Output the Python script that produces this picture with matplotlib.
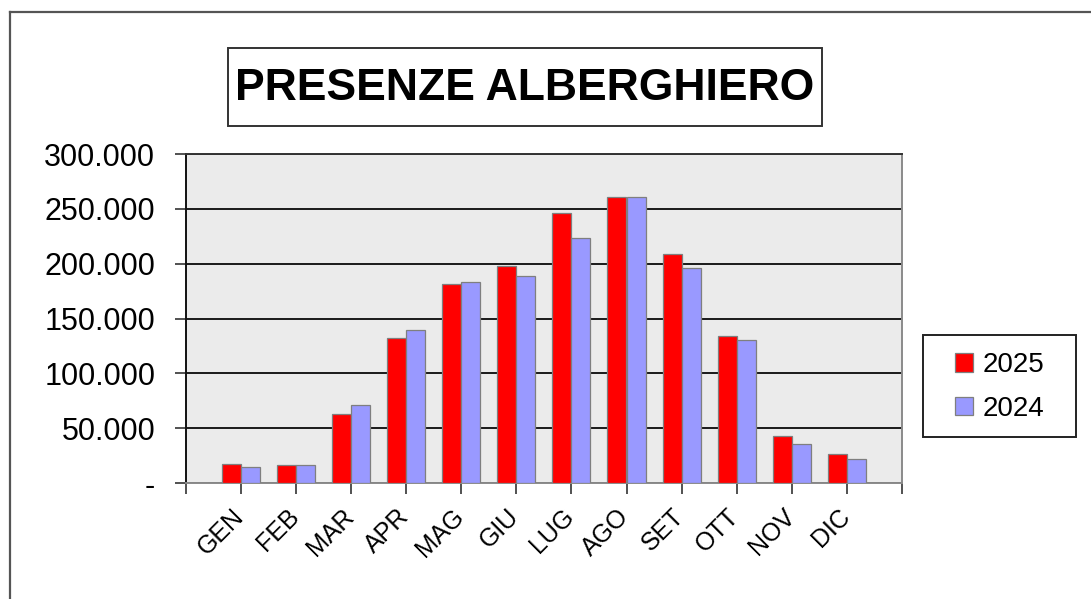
import matplotlib
matplotlib.use("Agg")
import matplotlib.pyplot as plt
from matplotlib.patches import Rectangle
from matplotlib.lines import Line2D
from matplotlib.transforms import ScaledTranslation
import numpy as np

months = ["GEN", "FEB", "MAR", "APR", "MAG", "GIU", "LUG", "AGO", "SET", "OTT", "NOV", "DIC"]
values_2025 = [17000, 16800, 62500, 132000, 181500, 198000, 246000, 261000, 208500, 134000, 42500, 26000]
values_2024 = [14800, 16800, 71500, 139500, 183000, 188500, 223500, 261000, 196000, 130000, 35500, 22000]
series_labels = ["2025", "2024"]
yticks = [0, 50000, 100000, 150000, 200000, 250000, 300000]
ytick_labels = ["-", "50.000", "100.000", "150.000", "200.000", "250.000", "300.000"]
title = "PRESENZE ALBERGHIERO"

plt.rcParams['font.family'] = ['Liberation Sans', 'DejaVu Sans']

W, H = 1091, 599
fig = plt.figure(figsize=(W / 100, H / 100), dpi=100)
fig.patch.set_facecolor("white")

def fx(px):
    return px / W

def fy(py):
    return 1 - py / H

ax = fig.add_axes([fx(185.7), fy(483), fx(902) - fx(185.7), fy(154) - fy(483)])
ax.set_facecolor("#EBEBEB")

x = np.arange(1, len(months) + 1)
w = 0.345
ax.bar(x - w / 2, values_2025, width=w, color="#FF0000", edgecolor="#7F7F7F", linewidth=0.9, zorder=3, label=series_labels[0])
ax.bar(x + w / 2, values_2024, width=w, color="#9999FF", edgecolor="#7F7F7F", linewidth=0.9, zorder=3, label=series_labels[1])

ax.set_xlim(0, len(months) + 1)
ax.set_ylim(0, 300000)
ax.set_yticks(yticks)
ax.set_yticklabels(ytick_labels, fontsize=22)
ax.yaxis.grid(True, color="#1A1A1A", linewidth=1.4, zorder=1)
ax.set_axisbelow(True)

ax.set_xticks(np.arange(0, len(months) + 2))
ax.set_xticklabels([""] + months + [""], fontsize=18, rotation=45, ha="right", va="baseline", rotation_mode="anchor")
ax.tick_params(axis="x", direction="out", length=8, width=1.2, color="#333333", pad=17)
ax.tick_params(axis="y", direction="out", length=8, width=1.2, color="#333333", pad=14)
shift = ScaledTranslation(4 / 100, 0, fig.dpi_scale_trans)
for lab in ax.get_xticklabels():
    lab.set_transform(lab.get_transform() + shift)

# dark baseline segment
ax.plot([0.38, 12.63], [0, 0], color="#1A1A1A", linewidth=2.0, zorder=2, solid_capstyle="butt")

ax.spines["left"].set_color("#111111")
ax.spines["left"].set_linewidth(1.4)
ax.spines["top"].set_color("#333333")
ax.spines["top"].set_linewidth(1.4)
ax.spines["right"].set_color("#8A8A8A")
ax.spines["right"].set_linewidth(1.4)
ax.spines["bottom"].set_color("#8A8A8A")
ax.spines["bottom"].set_linewidth(1.4)

# outer frame (left and top)
fig.add_artist(Line2D([fx(9.5), fx(9.5)], [fy(12), -0.05], color="#555555", linewidth=1.6, transform=fig.transFigure))
fig.add_artist(Line2D([fx(9.5), 1.05], [fy(12), fy(12)], color="#555555", linewidth=1.6, transform=fig.transFigure))

# title box
fig.add_artist(Rectangle((fx(228), fy(126)), fx(822) - fx(228), fy(48) - fy(126), transform=fig.transFigure,
                         facecolor="white", edgecolor="#333333", linewidth=1.4))
fig.text(fx(524.5), fy(100), title, ha="center", va="baseline", fontsize=32, fontweight="bold", color="black")

# legend box
fig.add_artist(Rectangle((fx(923), fy(437)), fx(1076) - fx(923), fy(335) - fy(437), transform=fig.transFigure,
                         facecolor="white", edgecolor="#222222", linewidth=1.4))
handles, labels = ax.get_legend_handles_labels()
fig.legend(handles, labels, loc="center", bbox_to_anchor=(fx(999.5), fy(387)), frameon=False,
           fontsize=20, handlelength=0.65, handleheight=0.65, handletextpad=0.35, labelspacing=0.62,
           borderpad=0)

fig.savefig("out.png", dpi=100, facecolor="white")
